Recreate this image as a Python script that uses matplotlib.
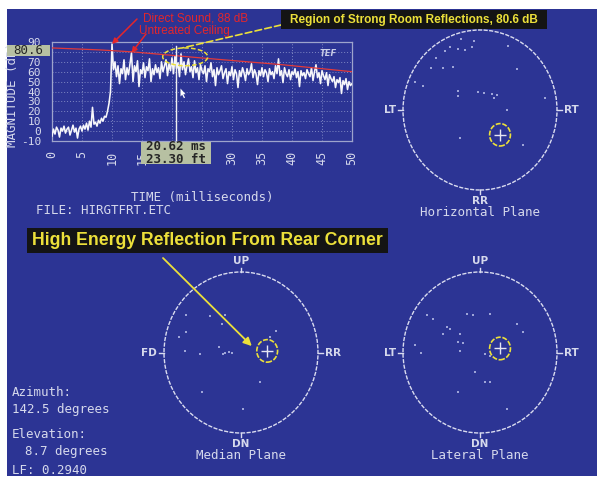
import numpy as np
import matplotlib
matplotlib.use("Agg")
import matplotlib.pyplot as plt
from matplotlib.patches import Ellipse, Rectangle
from matplotlib.path import Path

W, H = 597, 478

# ---------------- ETC data (dB), one sample every 0.25 ms, 0..50 ms ----------------
etc_db = [
    -5, 2, -3, 4, 1, -6, 3, 0, 5, -2, 2,
    4, -4, 1, 6, -1, 3, -7, 2, 5, 0,
    6, 2, 8, 1, 10, 4, 24, 7, 9, 5,
    11, 8, 13, 10, 15, 14, 20, 28,
    40,
    88,
    62,
    70, 55, 66, 48, 63, 58, 72, 52, 64,
    57, 68, 79, 50, 66, 60, 71, 45, 62, 58,
    69, 54, 65, 61, 73, 50, 63, 57, 67, 59,
    64, 53, 70, 60, 66, 72, 56, 68, 61, 74,
    58, 76, 63, 69, 55, 78, 62, 70, 57, 66,
    73, 60, 65, 54, 71, 59, 64, 52, 67, 61,
    58, 66, 50, 63, 60, 69, 55, 62, 46, 64,
    57, 61, 66, 53, 59, 63, 48, 60, 56, 65,
    52, 62, 58, 44, 61, 55, 64, 59, 51, 63,
    57, 60, 68, 54, 62, 58, 47, 61, 56, 64,
    55, 62, 59, 50, 63, 57, 60, 53, 66, 58,
    73, 56, 61, 49, 64, 58, 55, 62, 52, 60,
    57, 63, 54, 60, 45, 61, 56, 59, 53, 62,
    58, 55, 64, 51, 60, 67, 54, 59, 48, 61,
    56, 52, 59, 46, 57, 53, 50, 55, 44, 52,
    49, 54, 38, 51, 47, 53, 42, 50, 46, 48,
]
time_ms = np.linspace(0, 50, len(etc_db))

# decay reference line
decay_t = [0, 8, 13.5, 24.7, 38.5, 50]
decay_db = [84, 82, 80, 74, 67, 60]

direct_t, direct_db = 10.0, 88
ceiling_t, ceiling_db = 13.25, 79
ref_level = 80.6
cursor_ms = 20.62
cursor_ft = 23.30
region_t, region_db = 22.2, 75

x_ticks = [0, 5, 10, 15, 20, 25, 30, 35, 40, 45, 50]
x_tick_text = ["0", "5", "10", "15", "", "", "30", "35", "40", "45", "50"]
y_ticks = [90, 70, 60, 50, 40, 30, 20, 10, 0, -10]

# ---------------- reflection maps (unit circle coordinates) ----------------
horiz_x = [-0.25, -0.08, -0.39, -0.45, -0.28, -0.19, -0.11, 0.37, -0.57, -0.63, -0.48,
           -0.35, 0.48, -0.84, -0.74, -0.28, -0.29, -0.02, 0.05, 0.15, 0.22, 0.18,
           0.35, -0.26, 0.56, 0.84]
horiz_y = [0.89, 0.86, 0.79, 0.74, 0.76, 0.75, 0.79, 0.80, 0.65, 0.53, 0.52,
           0.54, 0.51, 0.35, 0.30, 0.24, 0.18, 0.23, 0.21, 0.20, 0.19, 0.15,
           0.0, -0.35, -0.44, 0.15]
horiz_hl = (0.26, -0.31)

median_x = [-0.71, -0.40, -0.25, -0.21, -0.81, -0.73, -0.53, -0.21, -0.16, -0.12,
            -0.23, 0.46, 0.38, 0.25, -0.51, 0.03, -0.29, -0.71]
median_y = [0.47, 0.45, 0.36, 0.46, 0.19, 0.02, -0.02, 0.0, 0.01, 0.0,
            -0.02, 0.27, 0.19, -0.37, -0.49, -0.70, 0.07, 0.25]
median_hl = (0.34, 0.02)

lateral_x = [-0.17, -0.09, 0.13, -0.61, -0.69, -0.43, -0.39, -0.48, -0.26, -0.28,
             -0.22, -0.26, -0.84, -0.76, 0.06, 0.13, 0.48, 0.56, -0.06, 0.06,
             0.13, -0.28, 0.35]
lateral_y = [0.48, 0.46, 0.48, 0.42, 0.46, 0.32, 0.29, 0.23, 0.23, 0.13,
             0.12, 0.02, 0.09, 0.0, -0.02, -0.04, 0.36, 0.26, -0.24, -0.37,
             -0.37, -0.49, -0.70]
lateral_hl = (0.26, 0.05)

azimuth_deg = 142.5
elevation_deg = 8.7
lf_value = 0.2940

# ---------------- styling ----------------
BLUE = "#2c3494"
TXT = "#d6d9ec"
GRID = "#8088c4"
YEL = "#ece03a"
RED = "#e4262b"
MONO = "DejaVu Sans Mono"
SANS = "Liberation Sans"

fig = plt.figure(figsize=(W / 100, H / 100), dpi=100, facecolor="white")


def px_axes(x0, y0, x1, y1, z):
    ax = fig.add_axes([x0 / W, 1 - y1 / H, (x1 - x0) / W, (y1 - y0) / H])
    ax.set_zorder(z)
    return ax


# background panel
bg = fig.add_axes([0, 0, 1, 1])
bg.set_zorder(0)
bg.set_xlim(0, W)
bg.set_ylim(H, 0)
bg.axis("off")
bg.add_patch(Rectangle((7, 9), W - 7, 467, facecolor=BLUE, edgecolor="none"))
bg.text(13, 94, "MAGNITUDE (dB)", rotation=90, ha="center", va="center",
        family=MONO, fontsize=9, color=TXT)

# ---------------- ETC plot ----------------
etc = px_axes(52, 42, 352, 141, 2)
etc.set_facecolor("none")
etc.set_xlim(0, 50)
etc.set_ylim(-10, 90)
for xv in x_ticks[1:-1]:
    etc.axvline(xv, color=GRID, lw=0.7, ls=(0, (1, 2)), zorder=1)
for yv in range(0, 90, 10):
    etc.axhline(yv, color=GRID, lw=0.7, ls=(0, (1, 2)), zorder=1)
for s in etc.spines.values():
    s.set_color("#9ea4cc")
    s.set_linewidth(0.9)
etc.plot(time_ms, etc_db, color="#f6f6fa", lw=1.15, zorder=3)
etc.plot(decay_t, decay_db, color="#e23a3a", lw=0.9, zorder=4)
etc.plot([cursor_ms, cursor_ms], [-10, 86], color="#f0f0f0", lw=1.0, zorder=4)
etc.set_xticks(x_ticks)
etc.set_xticklabels(x_tick_text, rotation=90, family=MONO, fontsize=8.5, color=TXT)
etc.set_yticks(y_ticks)
etc.set_yticklabels([str(v) for v in y_ticks], family=MONO, fontsize=8, color=TXT)
etc.tick_params(axis="y", length=0, pad=8)
etc.tick_params(axis="x", length=0, pad=7)

# reference level tag
ytr = etc.get_yaxis_transform()
etc.add_patch(Rectangle((-0.15, ref_level - 5.0), 0.143, 11.8, transform=ytr,
                        facecolor="#b7c0a2", edgecolor="none", clip_on=False, zorder=6))
etc.text(-0.078, ref_level + 0.9, f"{ref_level:.1f}", transform=ytr, ha="center",
         va="center", family=MONO, fontsize=9, color="#262626", clip_on=False, zorder=7)

# cursor readout
xtr = etc.get_xaxis_transform()
etc.add_patch(Rectangle((cursor_ms - 5.8, -0.235), 11.7, 0.225, transform=xtr,
                        facecolor="#b7c0a2", edgecolor="none", clip_on=False, zorder=6))
etc.text(cursor_ms, -0.122, f"{cursor_ms:.2f} ms\n{cursor_ft:.2f} ft", transform=xtr,
         ha="center", va="center", family=MONO, fontsize=9, fontweight="bold",
         color="#262626", linespacing=0.95, clip_on=False, zorder=7)

# highlighted region
etc.add_patch(Ellipse((region_t, region_db), 7.5, 18, facecolor="none", edgecolor=YEL,
                      lw=1.1, ls=(0, (3, 1.5)), clip_on=False, zorder=8))

# TEF logo
etc.text(0.95, 0.93, "TEF", transform=etc.transAxes, ha="right", va="top",
         family="DejaVu Sans", style="italic", fontweight="bold", fontsize=6,
         color="#c8cce6", zorder=5)

# mouse pointer
pointer = Path([(0, 0), (0, -14), (3, -11), (6, -17), (8, -16), (5, -10), (9, -10), (0, 0)])
etc.plot([21.4], [44], marker=pointer, markersize=14, color="white", mew=0, zorder=6)

# annotations pointing into the ETC
etc.annotate("", xy=(direct_t, direct_db), xycoords="data", xytext=(137, H - 19),
             textcoords="figure pixels",
             arrowprops=dict(arrowstyle="-|>", color=RED, lw=1.1, mutation_scale=8,
                             shrinkA=0, shrinkB=0), annotation_clip=False)
etc.annotate("", xy=(ceiling_t, ceiling_db), xycoords="data", xytext=(146, H - 34),
             textcoords="figure pixels",
             arrowprops=dict(arrowstyle="-|>", color=RED, lw=1.1, mutation_scale=8,
                             shrinkA=0, shrinkB=0), annotation_clip=False)
etc.annotate("", xy=(region_t - 0.5, region_db + 9), xycoords="data", xytext=(281, H - 25),
             textcoords="figure pixels",
             arrowprops=dict(arrowstyle="-", color=YEL, lw=1.2, ls=(0, (4, 2)),
                             shrinkA=0, shrinkB=0), annotation_clip=False)


# ---------------- reflection maps ----------------
def plane(box, xs, ys, hl, labels, title):
    ax = px_axes(*box, 3)
    ax.set_xlim(-1, 1)
    ax.set_ylim(-1, 1)
    ax.axis("off")
    ax.add_patch(Ellipse((0, 0), 2, 2, facecolor="none", edgecolor="#dadcf0",
                         lw=1.0, ls=(0, (3, 1)), clip_on=False))
    ax.scatter(xs, ys, s=2.0, marker="s", color="#9ea4d8", lw=0, clip_on=False)
    ax.add_patch(Ellipse(hl, 0.27, 0.28, facecolor="none", edgecolor=YEL, lw=1.2,
                         ls=(0, (3, 1)), clip_on=False))
    ax.plot([hl[0]], [hl[1]], marker="+", markersize=8, mew=1.0, color="#e6e6f2")
    pos = {"left": (-1, 0), "right": (1, 0), "top": (0, 1), "bottom": (0, -1)}
    for side, lab in labels.items():
        x, y = pos[side]
        if side in ("left", "right"):
            ax.plot([x, x * 1.06], [0, 0], color="#dadcf0", lw=1.0, clip_on=False)
            ax.text(x * 1.09, 0, lab, ha="right" if side == "left" else "left",
                    va="center", family="DejaVu Sans", fontweight="bold",
                    fontsize=7.5, color=TXT)
        else:
            ax.plot([0, 0], [y, y * 1.05], color="#dadcf0", lw=1.0, clip_on=False)
            ax.text(0, y * 1.07, lab, ha="center", va="bottom" if side == "top" else "top",
                    family="DejaVu Sans", fontweight="bold", fontsize=7.5, color=TXT)
    ax.text(0, -1.2, title, ha="center", va="top", family=MONO, fontsize=9, color=TXT)
    return ax


plane((403, 30, 557, 190), horiz_x, horiz_y, horiz_hl,
      {"left": "LT", "right": "RT", "bottom": "RR"}, "Horizontal Plane")
med = plane((164, 272, 318, 433), median_x, median_y, median_hl,
            {"left": "FD", "right": "RR", "top": "UP", "bottom": "DN"}, "Median Plane")
plane((403, 272, 557, 433), lateral_x, lateral_y, lateral_hl,
      {"left": "LT", "right": "RT", "top": "UP", "bottom": "DN"}, "Lateral Plane")

# ---------------- overlay texts ----------------
top = fig.add_axes([0, 0, 1, 1])
top.set_zorder(10)
top.set_facecolor("none")
top.set_xlim(0, W)
top.set_ylim(H, 0)
top.axis("off")

top.text(202, 198, "TIME (milliseconds)", ha="center", va="center", family=MONO,
         fontsize=9, color=TXT)
top.text(36, 211, "FILE: HIRGTFRT.ETC", ha="left", va="center", family=MONO,
         fontsize=9, color=TXT)

top.text(143, 18, f"Direct Sound, {direct_db} dB", ha="left", va="center",
         family=SANS, fontsize=8.5, color=RED)
top.text(139, 30.5, "Untreated Ceiling", ha="left", va="center", family=SANS,
         fontsize=8.5, color=RED)

top.add_patch(Rectangle((281, 10), 266, 19, facecolor="#141414", edgecolor="none"))
top.text(414, 19.5, f"Region of Strong Room Reflections, {ref_level:.1f} dB",
         ha="center", va="center", family=SANS, fontweight="bold", fontsize=8.5,
         color=YEL)

top.add_patch(Rectangle((27, 228), 361, 25, facecolor="#141414", edgecolor="none"))
top.text(207, 240.5, "High Energy Reflection From Rear Corner", ha="center",
         va="center", family=SANS, fontweight="bold", fontsize=12.7, color=YEL)

med.annotate("", xy=(median_hl[0] - 0.2, median_hl[1] + 0.06), xycoords="data",
             xytext=(163, H - 258), textcoords="figure pixels",
             arrowprops=dict(arrowstyle="-|>", color=YEL, lw=1.3, mutation_scale=12,
                             shrinkA=0, shrinkB=0), annotation_clip=False)

top.text(12, 393, "Azimuth:", ha="left", va="center", family=MONO, fontsize=9, color=TXT)
top.text(12, 409, f"{azimuth_deg:.1f} degrees", ha="left", va="center", family=MONO,
         fontsize=9, color=TXT)
top.text(12, 434, "Elevation:", ha="left", va="center", family=MONO, fontsize=9, color=TXT)
top.text(25, 451, f"{elevation_deg:.1f} degrees", ha="left", va="center", family=MONO,
         fontsize=9, color=TXT)
top.text(12, 470, f"LF: {lf_value:.4f}", ha="left", va="center", family=MONO,
         fontsize=9, color=TXT)

fig.savefig("out.png", dpi=100, facecolor="white")
